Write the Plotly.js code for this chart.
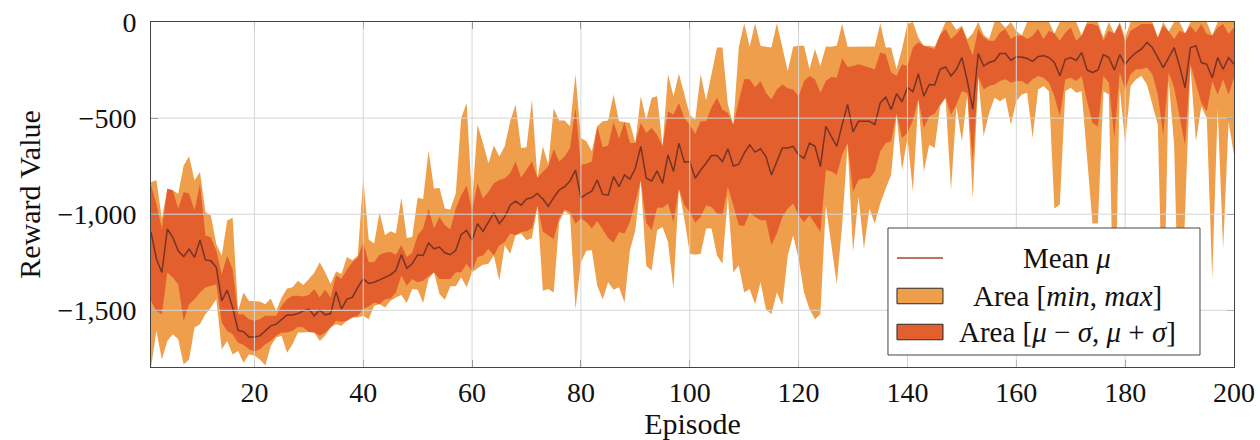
<!DOCTYPE html>
<html><head><meta charset="utf-8">
<script src="https://cdn.plot.ly/plotly-3.0.1.min.js"></script>
<style>html,body{margin:0;padding:0;background:#fff}#chart{width:1260px;height:440px}</style>
</head><body><div id="chart"></div>
<script>
const episodes = Array.from({length: 200}, (_, i) => i + 1);

const meanVals = [
-1094,-1233,-1303,-1077,-1120,-1190,-1221,-1181,-1225,-1134,
-1238,-1242,-1277,-1451,-1395,-1486,-1604,-1611,-1639,-1639,
-1633,-1607,-1581,-1572,-1550,-1524,-1525,-1517,-1503,-1494,
-1529,-1499,-1524,-1517,-1403,-1494,-1442,-1433,-1380,-1337,
-1360,-1354,-1342,-1328,-1316,-1293,-1211,-1281,-1258,-1211,
-1215,-1150,-1180,-1171,-1201,-1211,-1188,-1105,-1084,-1136,
-1049,-1089,-1040,-993,-1049,-1014,-953,-932,-953,-921,
-914,-892,-921,-958,-914,-874,-857,-827,-770,-914,
-895,-880,-822,-897,-901,-805,-857,-796,-817,-761,
-647,-813,-827,-775,-839,-691,-778,-630,-729,-726,
-813,-770,-735,-694,-694,-726,-660,-749,-740,-682,
-639,-677,-660,-700,-796,-726,-656,-656,-647,-691,
-709,-630,-647,-752,-543,-595,-647,-534,-429,-572,
-517,-517,-517,-534,-421,-391,-455,-373,-415,-339,
-363,-269,-386,-325,-328,-246,-234,-281,-246,-185,
-307,-455,-164,-229,-211,-202,-164,-164,-199,-182,
-182,-190,-205,-180,-175,-185,-210,-280,-194,-185,
-200,-159,-250,-263,-250,-170,-185,-250,-170,-220,
-185,-159,-141,-106,-133,-185,-237,-185,-133,-229,
-342,-133,-124,-211,-220,-290,-185,-246,-185,-220
];

const maxVals = [
-833,-824,-1024,-867,-876,-894,-746,-698,-824,-780,
-989,-1007,-1155,-1216,-1033,-1019,-1503,-1407,-1451,-1454,
-1454,-1468,-1438,-1503,-1433,-1386,-1380,-1346,-1368,-1337,
-1305,-1250,-1302,-1363,-1298,-1311,-1223,-1240,-1215,-813,
-1131,-1153,-991,-1110,-1089,-1101,-914,-1124,-1119,-914,
-921,-670,-866,-862,-970,-976,-892,-499,-421,-935,
-534,-630,-735,-642,-700,-647,-517,-429,-656,-652,
-403,-810,-647,-743,-450,-513,-513,-543,-272,-604,
-621,-673,-543,-517,-513,-377,-517,-520,-525,-630,
-386,-508,-394,-386,-647,-272,-386,-269,-377,-482,
-508,-272,-408,-272,-133,-133,-429,-534,-133,-7,
-129,-7,-124,-129,-133,-7,-124,-255,-129,-124,
-124,-246,-141,-229,-127,-129,-124,-10,-129,-129,
-129,-129,-127,-127,-7,-133,-133,-246,-141,-10,
0,-80,-124,-124,-129,-63,0,0,-40,-20,
-90,-59,0,-66,-89,0,0,-30,0,-45,
-70,0,0,0,0,0,-60,0,0,0,
0,-70,0,0,0,-80,0,-60,0,-80,
0,0,0,0,0,-80,0,-50,0,0,
-60,0,0,0,0,-70,0,0,0,0
];

const upperVals = [
-850,-946,-1077,-867,-876,-972,-885,-894,-980,-841,
-1111,-1120,-1190,-1312,-1216,-1286,-1521,-1521,-1547,-1555,
-1547,-1529,-1529,-1529,-1476,-1442,-1424,-1424,-1428,-1421,
-1389,-1433,-1393,-1433,-1319,-1337,-1288,-1250,-1225,-1145,
-1250,-1250,-1211,-1201,-1197,-1211,-1162,-1223,-1201,-1110,
-1075,-970,-1075,-1014,-1058,-1079,-970,-901,-852,-979,
-839,-918,-883,-839,-822,-813,-787,-726,-810,-770,
-726,-810,-778,-750,-661,-726,-700,-656,-447,-743,
-738,-726,-543,-652,-642,-520,-607,-520,-630,-630,
-525,-578,-551,-586,-647,-464,-482,-421,-499,-534,
-583,-517,-517,-443,-394,-455,-473,-534,-412,-298,
-298,-339,-307,-368,-403,-351,-325,-345,-351,-386,
-307,-281,-298,-368,-307,-286,-290,-188,-234,-229,
-220,-229,-234,-246,-159,-168,-263,-281,-220,-229,
-133,-106,-124,-133,-141,-66,-37,-89,-63,-28,
-106,-176,-37,-80,-98,-98,-54,-37,-89,-72,
-70,-89,-72,-37,-89,-45,-60,-98,-54,-28,
-98,-70,-10,-10,-20,-98,-45,-60,-10,-106,
-45,-28,-10,-10,-10,-80,-20,-50,-89,-45,
-60,-20,-54,-10,-63,-70,-28,-10,-63,-28
];

const lowerVals = [
-1451,-1503,-1521,-1303,-1329,-1364,-1555,-1469,-1442,-1407,
-1381,-1372,-1364,-1564,-1608,-1625,-1669,-1680,-1703,-1715,
-1703,-1677,-1660,-1633,-1616,-1616,-1607,-1585,-1590,-1613,
-1616,-1633,-1616,-1590,-1555,-1560,-1555,-1538,-1529,-1494,
-1480,-1459,-1468,-1442,-1438,-1407,-1319,-1372,-1337,-1354,
-1346,-1323,-1302,-1337,-1337,-1337,-1302,-1302,-1258,-1298,
-1223,-1215,-1180,-1215,-1162,-1145,-1101,-1110,-1092,-1089,
-1075,-955,-1090,-1110,-1130,-1020,-975,-990,-1050,-1023,
-1040,-1075,-1036,-1079,-1124,-1148,-1092,-1101,-1040,-935,
-822,-1044,-1084,-967,-967,-944,-1040,-866,-953,-988,
-1044,-1014,-953,-962,-997,-1005,-857,-953,-1058,-1061,
-991,-1014,-1031,-1031,-1162,-1101,-1014,-970,-944,-1005,
-1040,-1005,-1049,-1092,-770,-778,-796,-691,-630,-883,
-822,-813,-813,-778,-673,-630,-621,-475,-604,-578,
-513,-400,-551,-490,-478,-429,-394,-482,-429,-360,
-370,-726,-285,-351,-333,-325,-307,-298,-316,-307,
-307,-325,-298,-281,-290,-316,-386,-490,-298,-290,
-307,-281,-412,-525,-543,-281,-316,-604,-263,-351,
-272,-246,-246,-237,-272,-377,-586,-263,-342,-500,
-640,-220,-325,-421,-464,-307,-377,-298,-377,-290
];

const minVals = [
-1799,-1608,-1756,-1660,-1625,-1651,-1782,-1756,-1590,-1573,
-1521,-1486,-1442,-1703,-1660,-1730,-1712,-1773,-1730,-1735,
-1756,-1787,-1686,-1642,-1633,-1721,-1677,-1616,-1616,-1613,
-1616,-1660,-1633,-1590,-1572,-1581,-1555,-1538,-1538,-1529,
-1546,-1476,-1468,-1485,-1450,-1433,-1421,-1462,-1389,-1393,
-1462,-1337,-1302,-1415,-1445,-1375,-1375,-1328,-1380,-1302,
-1281,-1263,-1258,-1215,-1346,-1162,-1206,-1110,-1101,-1136,
-1124,-961,-1398,-1389,-1407,-1040,-985,-1005,-1494,-1250,
-1190,-1188,-1372,-1442,-1354,-1393,-1380,-1459,-1188,-1084,
-825,-1270,-1293,-1084,-1066,-1145,-1389,-866,-1023,-1206,
-1211,-1206,-1075,-1075,-1215,-1258,-909,-1302,-1267,-1407,
-1389,-1468,-1354,-1494,-1520,-1407,-1473,-1215,-1110,-1232,
-1407,-1494,-1546,-1520,-953,-1145,-1363,-1058,-639,-1197,
-909,-1180,-970,-1049,-944,-866,-796,-482,-770,-604,
-883,-403,-778,-639,-656,-438,-394,-874,-440,-621,
-377,-918,-290,-595,-473,-394,-412,-394,-534,-412,
-377,-368,-604,-351,-333,-360,-970,-950,-360,-342,
-368,-360,-700,-1049,-1049,-360,-377,-1750,-342,-630,
-333,-298,-281,-325,-429,-534,-1700,-307,-639,-1750,
-1000,-230,-621,-440,-500,-1337,-450,-1180,-520,-691
];

const xTickVals = [20, 40, 60, 80, 100, 120, 140, 160, 180, 200];
const yTickVals = [0, -500, -1000, -1500];
const xRange = [1, 200];
const yRange = [-1795, 0];

const legendLabels = [
  'Mean <i>μ</i>',
  'Area [<i>min</i>, <i>max</i>]',
  'Area [<i>μ</i> − <i>σ</i>, <i>μ</i> + <i>σ</i>]'
];

const LIGHT = '#EF9E4B';
const DARK = '#E35F2E';
const LINE = '#763426';
const FONT = '"Liberation Serif", "Times New Roman", serif';

const traces = [
  {x: episodes, y: minVals, mode: 'lines', line: {width: 0, color: LIGHT}, showlegend: false, hoverinfo: 'skip'},
  {x: episodes, y: maxVals, mode: 'lines', line: {width: 0, color: LIGHT}, fill: 'tonexty', fillcolor: LIGHT, showlegend: false, hoverinfo: 'skip', name: 'Area [min, max]'},
  {x: episodes, y: lowerVals, mode: 'lines', line: {width: 0, color: DARK}, showlegend: false, hoverinfo: 'skip'},
  {x: episodes, y: upperVals, mode: 'lines', line: {width: 0, color: DARK}, fill: 'tonexty', fillcolor: DARK, showlegend: false, hoverinfo: 'skip', name: 'Area [μ − σ, μ + σ]'},
  {x: episodes, y: meanVals, mode: 'lines', line: {width: 1.5, color: LINE}, showlegend: false, name: 'Mean μ'}
];

const shapes = [];
xTickVals.filter(v => v > xRange[0] && v < xRange[1]).forEach(v => {
  shapes.push({type: 'line', xref: 'x', yref: 'paper', x0: v, x1: v, y0: 0, y1: 1, layer: 'above', line: {color: '#d6d6d6', width: 1}});
});
yTickVals.filter(v => v > yRange[0] && v < yRange[1]).forEach(v => {
  shapes.push({type: 'line', xref: 'paper', yref: 'y', x0: 0, x1: 1, y0: v, y1: v, layer: 'above', line: {color: '#d6d6d6', width: 1}});
});

// Legend drawn as a boxed panel (plot-area fractions)
const LG = {x0: 0.6805, x1: 0.9686, y0: 0.0348, y1: 0.4029};
const symX0 = 0.6888, symX1 = 0.7313, textX = 0.8458;
const rowY = [0.3159, 0.2058, 0.1014];
const boxHalf = 0.0225;
shapes.push({type: 'rect', xref: 'paper', yref: 'paper', x0: LG.x0, x1: LG.x1, y0: LG.y0, y1: LG.y1,
  layer: 'above', fillcolor: '#ffffff', line: {color: '#444', width: 1}});
shapes.push({type: 'line', xref: 'paper', yref: 'paper', x0: symX0, x1: symX1, y0: rowY[0], y1: rowY[0],
  layer: 'above', line: {color: '#A9472F', width: 1.4}});
[[LIGHT, rowY[1]], [DARK, rowY[2]]].forEach(([c, y]) => {
  shapes.push({type: 'rect', xref: 'paper', yref: 'paper', x0: symX0, x1: symX1, y0: y - boxHalf, y1: y + boxHalf,
    layer: 'above', fillcolor: c, line: {color: '#2a2a2a', width: 1}});
});

const annotations = legendLabels.map((t, i) => ({
  xref: 'paper', yref: 'paper', x: textX, y: rowY[i], xanchor: 'center', yanchor: 'middle',
  text: t, showarrow: false, font: {family: FONT, size: 29, color: '#111'}
}));

const axisCommon = {
  ticks: 'inside', ticklen: 7, tickwidth: 1, tickcolor: '#444',
  showline: true, linecolor: '#444', linewidth: 1, mirror: 'ticks',
  showgrid: false, zeroline: false, layer: 'above traces',
  tickfont: {family: FONT, size: 28, color: '#111'}
};

const layout = {
  width: 1260, height: 440,
  margin: {l: 151, r: 26, t: 22, b: 73},
  paper_bgcolor: '#ffffff', plot_bgcolor: '#ffffff',
  font: {family: FONT, size: 28, color: '#111'},
  showlegend: false,
  xaxis: Object.assign({}, axisCommon, {
    range: xRange, tickvals: xTickVals, ticklabelstandoff: 0,
    title: {text: 'Episode', standoff: 12, font: {family: FONT, size: 30, color: '#111'}}
  }),
  yaxis: Object.assign({}, axisCommon, {
    range: yRange, tickvals: yTickVals, separatethousands: true, ticklabelstandoff: 8,
    title: {text: 'Reward Value', standoff: 8, font: {family: FONT, size: 30, color: '#111'}}
  }),
  shapes: shapes,
  annotations: annotations
};

Plotly.newPlot('chart', traces, layout, {displayModeBar: false, staticPlot: true});
</script>
</body></html>
